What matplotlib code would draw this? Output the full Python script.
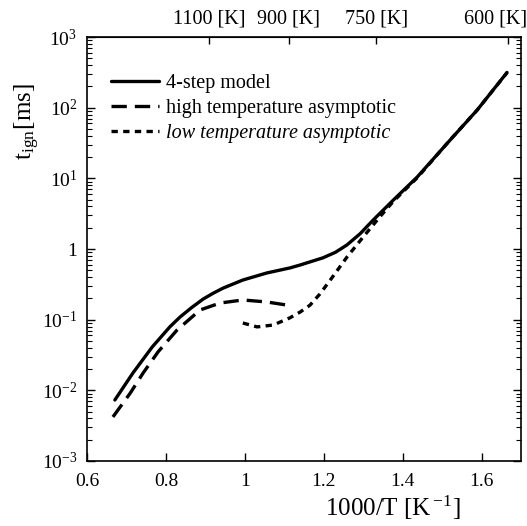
import matplotlib
matplotlib.use("Agg")
import matplotlib.pyplot as plt
import numpy as np
from matplotlib.ticker import FixedLocator, NullFormatter, FuncFormatter
from matplotlib.transforms import ScaledTranslation

plt.rcParams['font.family'] = ['Liberation Serif', 'DejaVu Serif']
plt.rcParams['mathtext.fontset'] = 'stix'

# 4-step model
x_model = [0.6706, 0.7164, 0.7652, 0.8099, 0.8358, 0.865, 0.8945, 0.92, 0.9452, 0.995, 1.0557,
           1.1144, 1.1402, 1.198, 1.23, 1.2587, 1.2925, 1.3253, 1.376, 1.4367, 1.5203, 1.589,
           1.6646]
t_model = [0.0073, 0.0176, 0.041, 0.079, 0.109, 0.148, 0.196, 0.237, 0.28, 0.364, 0.458,
           0.54, 0.594, 0.75, 0.90, 1.14, 1.65, 2.57, 4.9, 10.4, 34.8, 92.7,
           315]

# high temperature asymptotic
x_high = [0.6657, 0.7094, 0.7423, 0.7801, 0.8278, 0.8865, 0.9373, 0.995, 1.0557, 1.1064, 1.117]
t_high = [0.0042, 0.0091, 0.0176, 0.035, 0.071, 0.137, 0.172, 0.19, 0.178, 0.161, 0.158]

# low temperature asymptotic
x_low = [0.995, 1.031, 1.072, 1.114, 1.140, 1.165, 1.19, 1.216, 1.259, 1.300, 1.342,
         1.376, 1.437, 1.520, 1.589, 1.665]
t_low = [0.0897, 0.079, 0.084, 0.106, 0.128, 0.16, 0.23, 0.36, 0.77, 1.48, 2.84,
         4.7, 10.2, 34.8, 92.7, 315]

top_temps = [1100, 900, 750, 600]
top_labels = ["1100 [K]", "900 [K]", "750 [K]", "600 [K]"]
x_ticks = [0.6, 0.8, 1.0, 1.2, 1.4, 1.6]
x_ticklabels = ["0.6", "0.8", "1", "1.2", "1.4", "1.6"]
y_exponents = [-3, -2, -1, 0, 1, 2, 3]

fig = plt.figure(figsize=(5.27, 5.26), dpi=100)
ax = fig.add_axes([0.1651, 0.1236, 0.8235, 0.806])

ax.plot(x_model, t_model, color='black', lw=2.4, ls='-', label='4-step model',
        solid_capstyle='round', solid_joinstyle='round')
ax.plot(x_high, t_high, color='black', lw=2.4, ls=(0, (4.6, 2.4)),
        label='high temperature asymptotic')
ax.plot(x_low, t_low, color='black', lw=2.4, ls=(0, (1.9, 1.6)),
        label='low temperature asymptotic')

ax.set_yscale('log')
ax.set_xlim(0.6, 1.7)
ax.set_ylim(1e-3, 1e3)

def yfmt(v, pos):
    e = int(round(np.log10(v)))
    if e == 0:
        return "1"
    return r"$\mathregular{10^{%d}}$" % e

major_y = [10.0 ** e for e in y_exponents]
minor_y = [m * 10.0 ** e for e in y_exponents[:-1] for m in range(2, 10)]
ax.yaxis.set_major_locator(FixedLocator(major_y))
ax.yaxis.set_major_formatter(FuncFormatter(yfmt))
ax.yaxis.set_minor_locator(FixedLocator(minor_y))
ax.yaxis.set_minor_formatter(NullFormatter())

ax.set_xticks(x_ticks)
ax.set_xticklabels(x_ticklabels)

ax.tick_params(axis='both', which='major', direction='in', length=6, width=1, labelsize=14)
ax.tick_params(axis='y', which='both', right=True, direction='in')
ax.tick_params(axis='y', which='minor', length=3.5, width=0.8)
ax.tick_params(axis='x', which='major', pad=9)
ax.tick_params(axis='y', which='major', pad=7)

sec = ax.secondary_xaxis('top', functions=(lambda x: x, lambda x: x))
sec.set_xticks([1000.0 / T for T in top_temps])
sec.set_xticklabels(top_labels)
sec.tick_params(direction='in', length=5, width=1, labelsize=14.5, pad=6)
# last top label sits a little left of its tick in the reference
lbls = sec.xaxis.get_ticklabels()
lbls[-1].set_transform(lbls[-1].get_transform() + ScaledTranslation(-0.12, 0, fig.dpi_scale_trans))

ax.set_xlabel(r"1000/T [K$^{\,\mathregular{-1}}$]", fontsize=18)
ax.xaxis.set_label_coords(0.705, -0.077)
ax.set_ylabel(r"t$_{\mathregular{ign}}$[ms]", fontsize=18)
ax.yaxis.set_label_coords(-0.105, 0.80)

for s in ax.spines.values():
    s.set_linewidth(1.2)

leg = ax.legend(loc='upper left', bbox_to_anchor=(0.055, 0.912), frameon=False, fontsize=14.5,
                handlelength=2.4, handletextpad=0.35, labelspacing=0.28, borderaxespad=0,
                borderpad=0)
leg.get_texts()[2].set_style('italic')

fig.savefig("out.png", dpi=100)
